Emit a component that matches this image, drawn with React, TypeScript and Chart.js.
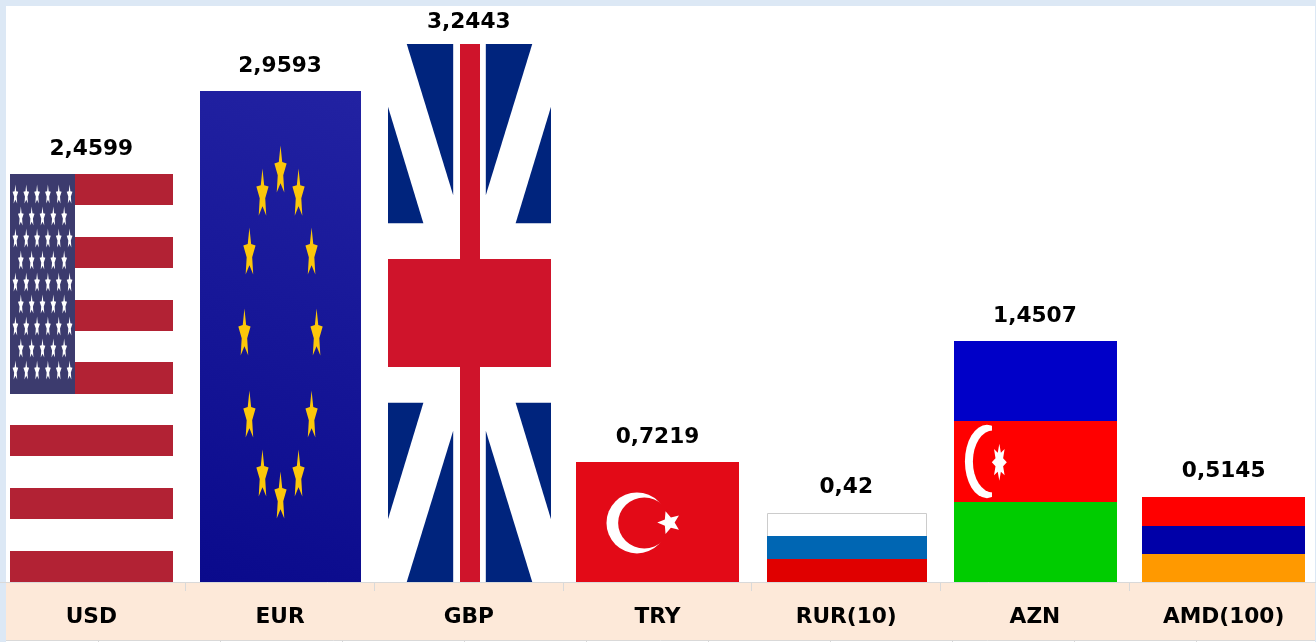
import React, { useEffect, useRef } from "react";
import { Chart, registerables } from "chart.js";

Chart.register(...registerables);

const categories = ["USD", "EUR", "GBP", "TRY", "RUR(10)", "AZN", "AMD(100)"];
const rates = [2.4599, 2.9593, 3.2443, 0.7219, 0.42, 1.4507, 0.5145];
const barColors = ["#b22234", "#14149a", "#cf142b", "#e30a17", "#0066b3", "#ff0000", "#0000a8"];

const FONT = '"DejaVu Sans", sans-serif';
const FRAME = "#dce8f5";
const BAND = "#fde9d9";
const LINE = "#d9d9d9";
const OFFSET_X = 3;

type Box = { l: number; t: number; w: number; h: number };

function star(
  ctx: CanvasRenderingContext2D, cx: number, cy: number, rx: number, ry: number,
  points = 5, inner = 0.382, rot = -Math.PI / 2
) {
  ctx.beginPath();
  for (let i = 0; i < points * 2; i++) {
    const a = rot + (i * Math.PI) / points;
    const r = i % 2 === 0 ? 1 : inner;
    const x = cx + Math.cos(a) * rx * r;
    const y = cy + Math.sin(a) * ry * r;
    if (i === 0) ctx.moveTo(x, y);
    else ctx.lineTo(x, y);
  }
  ctx.closePath();
  ctx.fill();
}

function stripes(ctx: CanvasRenderingContext2D, b: Box, colors: string[], stops: number[]) {
  colors.forEach((c, i) => {
    const y0 = Math.round(b.t + stops[i] * b.h);
    const y1 = Math.round(b.t + stops[i + 1] * b.h);
    ctx.fillStyle = c;
    ctx.fillRect(b.l, y0, b.w, y1 - y0);
  });
}

function ell(ctx: CanvasRenderingContext2D, color: string, cx: number, cy: number, rx: number, ry: number) {
  ctx.fillStyle = color;
  ctx.beginPath();
  ctx.ellipse(cx, cy, rx, ry, 0, 0, Math.PI * 2);
  ctx.fill();
}

function usa(ctx: CanvasRenderingContext2D, b: Box) {
  const band = b.h / 13;
  ctx.fillStyle = "#fff";
  ctx.fillRect(b.l, b.t, b.w, b.h);
  ctx.fillStyle = "#b22234";
  for (let i = 0; i < 13; i += 2) {
    const y0 = Math.round(b.t + i * band);
    ctx.fillRect(b.l, y0, b.w, Math.round(b.t + (i + 1) * band) - y0);
  }
  const cw = Math.round(b.w * 0.4);
  const ch = Math.round(band * 7);
  ctx.fillStyle = "#3c3b6e";
  ctx.fillRect(b.l, b.t, cw, ch);
  ctx.save();
  ctx.filter = "blur(0.5px)";
  ctx.fillStyle = "#fff";
  for (let r = 0; r < 9; r++) {
    const n = r % 2 === 0 ? 6 : 5;
    for (let c = 0; c < n; c++) {
      const x = r % 2 === 0 ? (c + 0.5) * (cw / 6) : (c + 1) * (cw / 6);
      star(ctx, b.l + x, b.t + ((r + 1) * ch) / 10 - 1, 3, 10.5, 5, 0.45);
    }
  }
  ctx.restore();
}

const euX = [0, -0.112, 0.112, -0.193, 0.193, -0.224, 0.224, -0.193, 0.193, -0.112, 0.112, 0];
const euY = [-0.336, -0.289, -0.289, -0.169, -0.169, -0.004, -0.004, 0.163, 0.163, 0.283, 0.283, 0.328];

function eu(ctx: CanvasRenderingContext2D, o: Box) {
  const b = { l: o.l + 1, t: o.t, w: o.w - 2, h: o.h };
  ctx.fillStyle = "#fff";
  ctx.fillRect(o.l, o.t, o.w, o.h);
  const g = ctx.createLinearGradient(b.l, b.t + b.h, b.l + b.w, b.t);
  g.addColorStop(0, "#0a0a8c");
  g.addColorStop(1, "#2222a2");
  ctx.fillStyle = g;
  ctx.fillRect(b.l, b.t, b.w, b.h);
  ctx.save();
  ctx.filter = "blur(0.5px)";
  ctx.fillStyle = "#fcc70a";
  euX.forEach((fx, i) => {
    star(ctx, b.l + b.w * (0.5 + fx), b.t + b.h * (0.5 + euY[i]), b.w * 0.04, b.h * 0.053, 5, 0.45);
  });
  ctx.restore();
}

function uk(ctx: CanvasRenderingContext2D, b: Box) {
  ctx.fillStyle = "#fff";
  ctx.fillRect(b.l, b.t, b.w, b.h);
  ctx.fillStyle = "#00247d";
  const tri = (pts: number[][]) => {
    for (const [mx, my] of [[0, 0], [1, 0], [0, 1], [1, 1]]) {
      ctx.beginPath();
      pts.forEach(([x, y], i) => {
        const px = b.l + b.w * (mx ? 1 - x : x);
        const py = b.t + b.h * (my ? 1 - y : y);
        if (i === 0) ctx.moveTo(px, py);
        else ctx.lineTo(px, py);
      });
      ctx.closePath();
      ctx.fill();
    }
  };
  tri([[0.115, 0], [0.4, 0], [0.4, 0.281]]);
  tri([[0, 0.1165], [0, 0.333], [0.217, 0.333]]);
  ctx.fillStyle = "#cf142b";
  ctx.fillRect(Math.round(b.l + b.w * 0.44), b.t, Math.round(b.w * 0.12), b.h);
  ctx.fillRect(b.l, Math.round(b.t + b.h * 0.4), b.w, Math.round(b.h * 0.2));
}

function turkey(ctx: CanvasRenderingContext2D, b: Box) {
  const red = "#e30a17";
  ctx.fillStyle = red;
  ctx.fillRect(b.l, b.t, b.w, b.h);
  const cy = b.t + b.h * 0.508;
  ell(ctx, "#fff", b.l + b.w * 0.374, cy, b.h * 0.254, b.h * 0.254);
  ell(ctx, red, b.l + b.w * 0.419, cy, b.h * 0.218, b.h * 0.2125);
  ctx.fillStyle = "#fff";
  star(ctx, b.l + b.w * 0.572, b.t + b.h * 0.505, b.h * 0.1, b.h * 0.1, 5, 0.45, Math.PI);
}

function russia(ctx: CanvasRenderingContext2D, o: Box) {
  const b = { l: o.l + 2, t: o.t + 1, w: o.w - 3, h: o.h - 1 };
  ctx.fillStyle = "#fff";
  ctx.fillRect(o.l, o.t, o.w, o.h);
  stripes(ctx, b, ["#ffffff", "#0066b3", "#e00000"], [0, 0.333, 0.667, 1]);
  ctx.strokeStyle = "#cccccc";
  ctx.lineWidth = 1;
  ctx.beginPath();
  ctx.moveTo(b.l + 0.5, b.t + b.h * 0.333);
  ctx.lineTo(b.l + 0.5, b.t + 0.5);
  ctx.lineTo(b.l + b.w - 0.5, b.t + 0.5);
  ctx.lineTo(b.l + b.w - 0.5, b.t + b.h * 0.333);
  ctx.stroke();
}

function azerbaijan(ctx: CanvasRenderingContext2D, b: Box) {
  stripes(ctx, b, ["#0000c8", "#ff0000", "#00cc00"], [0, 0.331, 0.669, 1]);
  const cy = b.t + b.h * 0.5;
  ell(ctx, "#fff", b.l + b.w * 0.202, cy, b.w * 0.135, b.h * 0.152);
  ell(ctx, "#ff0000", b.l + b.w * 0.239, cy, b.w * 0.123, b.h * 0.129);
  ctx.fillStyle = "#ff0000";
  ctx.fillRect(b.l + b.w * 0.233, cy - b.h * 0.16, b.w * 0.14, b.h * 0.32);
  ctx.fillStyle = "#fff";
  star(ctx, b.l + b.w * 0.278, b.t + b.h * 0.503, b.w * 0.046, b.h * 0.077, 8, 0.55);
}

function armenia(ctx: CanvasRenderingContext2D, o: Box) {
  const b = { l: o.l, t: o.t + 1, w: o.w, h: o.h - 1 };
  ctx.fillStyle = "#fff";
  ctx.fillRect(o.l, o.t, o.w, o.h);
  stripes(ctx, b, ["#ff0000", "#0000a8", "#ff9900"], [0, 0.34, 0.675, 1]);
}

const painters = [usa, eu, uk, turkey, russia, azerbaijan, armenia];

const framePlugin = {
  id: "frame",
  beforeDraw(chart: any) {
    const { ctx, width, height } = chart;
    ctx.save();
    ctx.fillStyle = FRAME;
    ctx.fillRect(0, 0, width, height);
    ctx.fillStyle = "#ffffff";
    ctx.fillRect(6 + OFFSET_X, 6, 1309, height - 6);
    ctx.fillStyle = BAND;
    ctx.fillRect(6 + OFFSET_X, chart.chartArea.bottom + 1, 1309, 57);
    ctx.strokeStyle = LINE;
    ctx.lineWidth = 1;
    ctx.beginPath();
    ctx.moveTo(6 + OFFSET_X, 640.5);
    ctx.lineTo(1315 + OFFSET_X, 640.5);
    for (let i = 0; i < 11; i++) {
      const x = 98.5 + i * 122 + OFFSET_X;
      ctx.moveTo(x, 640);
      ctx.lineTo(x, 642);
    }
    ctx.stroke();
    ctx.restore();
  },
};

const flagPlugin = {
  id: "flags",
  afterDatasetsDraw(chart: any) {
    const { ctx } = chart;
    const bars = chart.getDatasetMeta(0).data;
    ctx.save();
    ctx.font = `bold 21.7px ${FONT}`;
    bars.forEach((bar: any, i: number) => {
      const w = Math.round(bar.width + 2.6);
      const l = Math.round(bar.x - w / 2 + 0.3);
      const t = Math.floor(bar.y);
      const box = { l, t, w, h: Math.round(bar.base) - t };
      ctx.save();
      ctx.beginPath();
      ctx.rect(box.l, box.t, box.w, box.h);
      ctx.clip();
      painters[i](ctx, box);
      ctx.restore();
      ctx.fillStyle = "#000000";
      ctx.textAlign = "center";
      ctx.textBaseline = "middle";
      ctx.fillText(String(rates[i]).replace(".", ","), bar.x, Math.max(22, bar.y - 25));
    });
    ctx.restore();
  },
};

export default function App() {
  const ref = useRef<HTMLCanvasElement>(null);
  useEffect(() => {
    if (!ref.current) return;
    const chart = new Chart(ref.current, {
      type: "bar",
      data: {
        labels: categories,
        datasets: [
          {
            data: rates,
            backgroundColor: barColors,
            borderWidth: 0,
            barPercentage: 1,
            categoryPercentage: 0.85,
          },
        ],
      },
      options: {
        animation: false,
        responsive: false,
        layout: { padding: { top: 1, left: 0, right: 0, bottom: 0 } },
        plugins: { legend: { display: false }, tooltip: { enabled: false } },
        scales: {
          y: { display: false, min: 0, max: 3.506 },
          x: {
            afterFit(scale: any) {
              scale.height = 60;
            },
            grid: { offset: true, drawOnChartArea: false, color: LINE, tickLength: 9 },
            border: { color: LINE },
            ticks: {
              color: "#000000",
              padding: 13,
              maxRotation: 0,
              font: { family: FONT, size: 21.7, weight: "bold" },
            },
          },
        },
      },
      plugins: [framePlugin, flagPlugin],
    } as any);
    return () => chart.destroy();
  }, []);
  return (
    <div style={{ position: "fixed", left: 0, top: 0, width: 1316, height: 642, overflow: "hidden" }}>
      <canvas
        ref={ref}
        width={1321}
        height={642}
        style={{ position: "absolute", left: -OFFSET_X, top: 0, width: 1321, height: 642 }}
      />
    </div>
  );
}
